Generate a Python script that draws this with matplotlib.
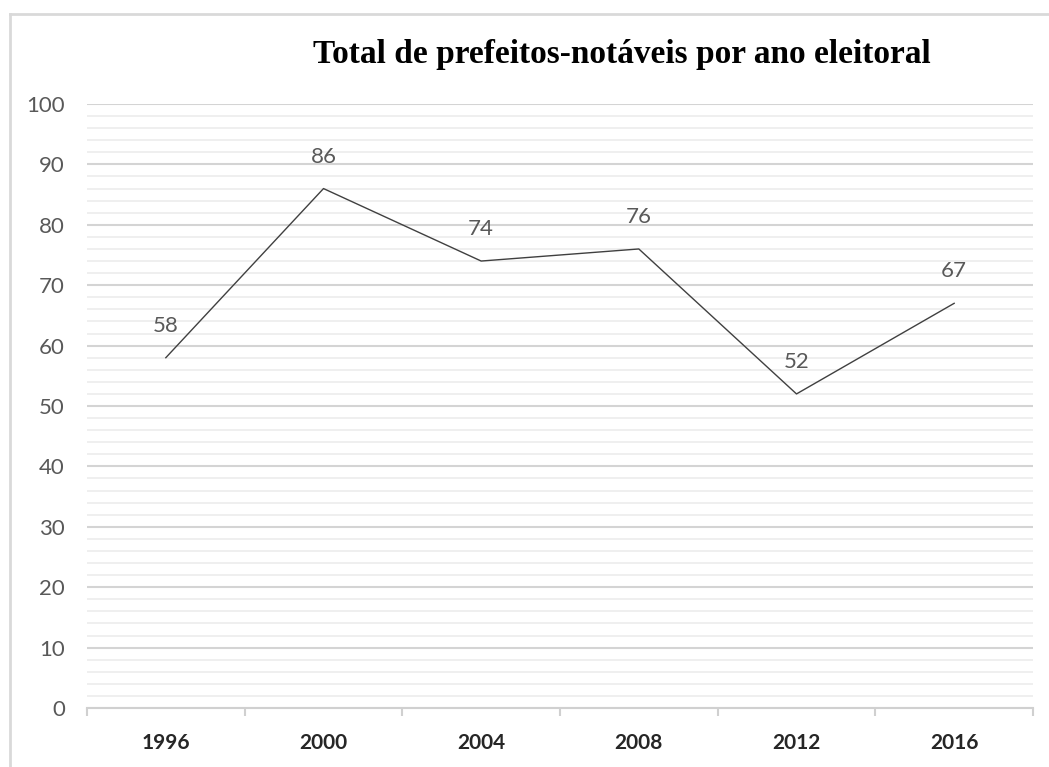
import matplotlib.pyplot as plt
from matplotlib.lines import Line2D
from matplotlib.ticker import MultipleLocator

anos = ["1996", "2000", "2004", "2008", "2012", "2016"]
totais = [58, 86, 74, 76, 52, 67]

fig = plt.figure(figsize=(10.49, 7.67), dpi=100)
ax = fig.add_axes([87/1049, 1 - 708/767, (1033 - 87)/1049, (708 - 104)/767])

x = list(range(len(anos)))

# -----------------------------------
# grid
# -----------------------------------
ax.set_ylim(0, 100)
ax.set_xlim(-0.5, len(anos) - 0.5)
ax.yaxis.set_major_locator(MultipleLocator(10))
ax.yaxis.set_minor_locator(MultipleLocator(2))
ax.grid(axis="y", which="major", color="#d4d4d4", linewidth=1.5, zorder=0)
ax.grid(axis="y", which="minor", color="#ececec", linewidth=1.2, zorder=0)
ax.set_axisbelow(True)

for s in ["top", "right", "left"]:
    ax.spines[s].set_visible(False)
ax.spines["bottom"].set_color("#d0d0d0")
ax.spines["bottom"].set_linewidth(1.5)

# -----------------------------------
# line + labels
# -----------------------------------
ax.plot(x, totais, color="#404040", linewidth=1.0, zorder=3)

for xi, v in zip(x, totais):
    ax.annotate(str(v), (xi, v), xytext=(0, 23), textcoords="offset points",
                ha="center", va="center", fontsize=16, color="#595959",
                family="Lato")

# -----------------------------------
# ticks
# -----------------------------------
ax.set_xticks(x)
ax.set_xticklabels(anos, fontsize=15, fontweight="bold", color="#262626",
                   family="Lato")
ax.set_xticks([i - 0.5 for i in range(len(anos) + 1)], minor=True)
ax.tick_params(axis="x", which="major", length=0, pad=18)
ax.tick_params(axis="x", which="minor", length=6, color="#d0d0d0", width=1.5)

ax.tick_params(axis="y", which="both", length=0, pad=16, labelsize=16,
               labelcolor="#595959")
for lab in ax.get_yticklabels():
    lab.set_family("Lato")

# -----------------------------------
# title
# -----------------------------------
fig.text(622/1049, 1 - 55/767, "Total de prefeitos-notáveis por ano eleitoral",
         ha="center", va="center", fontsize=24, fontweight="bold",
         family="Liberation Serif", color="#000000")

# outer chart border
fig.add_artist(Line2D([10/1049, 10/1049], [0, 1 - 14/767], color="#d9d9d9",
                      linewidth=2, transform=fig.transFigure))
fig.add_artist(Line2D([10/1049, 1], [1 - 14/767, 1 - 14/767], color="#d9d9d9",
                      linewidth=2, transform=fig.transFigure))

fig.savefig("out.png", dpi=100)
